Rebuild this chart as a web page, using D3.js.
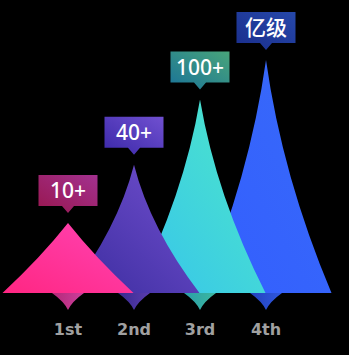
<!DOCTYPE html>
<html>
<head>
<meta charset="utf-8">
<script src="https://cdn.jsdelivr.net/npm/d3@7"></script>
<style>
  html, body { margin: 0; padding: 0; background: #000; }
  svg { display: block; }
</style>
</head>
<body>
<div id="chart"></div>
<script>
// Spike chart: ranks vs labels
const categories = ['1st', '2nd', '3rd', '4th'];
const values = [30, 55, 83, 100];
const tagLabels = ['10+', '40+', '100+', '亿级'];

const barColors = [['#ff2682', '#ff44b4'], ['#3a2c9e', '#7350d0'], ['#36c4ec', '#4ee8c8'], ['#335eff', '#386af8']];
const tagColors = [['#98174f', '#a3318f'], ['#3a28a8', '#7050d0'], ['#1a7398', '#48a47a'], ['#1a2e8c', '#2648aa']];
const markColors = [['#b42878', '#cc409c'], ['#382a8e', '#5a3cb0'], ['#2a9ea8', '#3cb8a0'], ['#2242bc', '#3058e0']];

(function() {
    const width = 349;
    const height = 355;
    const baseY = 293;

    const svg = d3.select('#chart')
        .append('svg')
        .attr('width', width)
        .attr('height', height)
        .style('background', '#000');

    const x = d3.scaleBand()
        .domain(categories)
        .range([35, 299]);

    const y = d3.scaleLinear()
        .domain([0, 100])
        .range([baseY, 60]);

    const defs = svg.append('defs');
    function grad(id, c, x1, y1, x2, y2) {
        const g = defs.append('linearGradient')
            .attr('id', id)
            .attr('x1', x1).attr('y1', y1).attr('x2', x2).attr('y2', y2);
        g.append('stop').attr('offset', '0%').attr('stop-color', c[0]);
        g.append('stop').attr('offset', '100%').attr('stop-color', c[1]);
    }
    barColors.forEach((c, i) => grad('bar' + i, c, 0, 1, 1, 0));
    grad('bar2', barColors[2], 1, 1, 0, 0);
    tagColors.forEach((c, i) => grad('tag' + i, c, 0, 1, 1, 0));
    markColors.forEach((c, i) => grad('mark' + i, c, 0, 0, 1, 0));

    // concave spike, k = how much the sides bow in
    function spike(cx, base, w, h, k) {
        const c = (0.5 - k / 2) * w / 2;
        return `M${cx - w / 2},${base} L${cx + w / 2},${base} ` +
            `Q${cx + c},${base - h / 2} ${cx},${base - h} ` +
            `Q${cx - c},${base - h / 2} ${cx - w / 2},${base} Z`;
    }

    const data = categories.map((c, i) => ({cat: c, value: values[i], tag: tagLabels[i], i: i}));
    const cx = d => x(d.cat) + x.bandwidth() / 2;

    // little down-pointing marks under the baseline
    svg.selectAll('.mark')
        .data(data)
        .enter()
        .append('path')
        .attr('d', d => {
            const c = cx(d), w = 32, h = 17;
            return `M${c - w / 2},${baseY} L${c + w / 2},${baseY} ` +
                `Q${c + w / 8},${baseY + h / 2} ${c},${baseY + h} ` +
                `Q${c - w / 8},${baseY + h / 2} ${c - w / 2},${baseY} Z`;
        })
        .attr('fill', d => `url(#mark${d.i})`);

    // spikes, first category drawn last so it sits on top
    svg.selectAll('.spike')
        .data(data.slice().reverse())
        .enter()
        .append('path')
        .attr('d', d => {
            const h = baseY - y(d.value);
            const k = 0.5 * Math.max(0, Math.min(1, (h - 45) / 80));
            return spike(cx(d), baseY, x.bandwidth() * 2 - 1, h, k);
        })
        .attr('fill', d => `url(#bar${d.i})`);

    // label tags
    const tw = 59, th = 31, gap = 17, pw = 6, ph = 7;
    const tags = svg.selectAll('.tag')
        .data(data)
        .enter()
        .append('g')
        .attr('transform', d => `translate(${cx(d)},${y(d.value) - gap})`);

    tags.append('path')
        .attr('d', `M${-tw / 2},${-th} L${tw / 2},${-th} L${tw / 2},0 L${pw},0 L0,${ph} L${-pw},0 L${-tw / 2},0 Z`)
        .attr('fill', d => `url(#tag${d.i})`);

    tags.append('text')
        .attr('x', 0)
        .attr('y', -th / 2 + 7.5)
        .attr('text-anchor', 'middle')
        .attr('fill', '#fff')
        .attr('font-family', '"Noto Sans", "Noto Sans CJK SC", sans-serif')
        .attr('font-weight', 500)
        .attr('font-size', '21px')
        .text(d => d.tag);

    // category labels
    svg.selectAll('.cat')
        .data(data)
        .enter()
        .append('text')
        .attr('x', d => cx(d))
        .attr('y', 335)
        .attr('text-anchor', 'middle')
        .attr('fill', '#a0a0a0')
        .attr('font-family', '"DejaVu Sans", sans-serif')
        .attr('font-weight', 'bold')
        .attr('font-size', '16px')
        .text(d => d.cat);
})();
</script>
</body>
</html>
